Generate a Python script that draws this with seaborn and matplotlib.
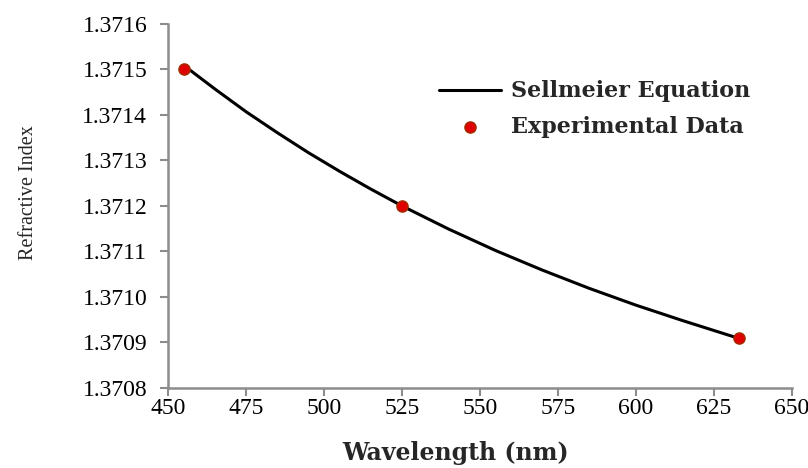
import numpy as np
import pandas as pd
import matplotlib
matplotlib.use("Agg")
import matplotlib.pyplot as plt
import seaborn as sns
from matplotlib.ticker import FormatStrFormatter, MultipleLocator

# Sellmeier fit curve
curve_wl = [455, 465, 475, 485, 495, 505, 515, 525, 540, 555, 570, 585, 600, 615, 633]
curve_n = [1.371509, 1.371457, 1.371407, 1.371361, 1.371317, 1.371276, 1.371237,
           1.371200, 1.371149, 1.371102, 1.371059, 1.371019, 1.370982, 1.370948,
           1.370909]

# measured points
exp_wl = [455, 525, 633]
exp_n = [1.37150, 1.37120, 1.37091]

sns.set_style("ticks")
plt.rcParams['font.family'] = ['Liberation Serif', 'DejaVu Serif']

curve = pd.DataFrame({'wl': curve_wl, 'n': curve_n})
exp = pd.DataFrame({'wl': exp_wl, 'n': exp_n})

fig = plt.figure(figsize=(8.08, 4.68), dpi=100)
ax = fig.add_axes([0.208, 0.171, 0.772, 0.778])

sns.lineplot(data=curve, x='wl', y='n', color='black', linewidth=2.2,
             label='Sellmeier Equation', ax=ax)
sns.scatterplot(data=exp, x='wl', y='n', color='#e00000', edgecolor='#a03000',
                s=65, linewidth=1, marker='o', label='Experimental Data',
                ax=ax, zorder=3)

ax.set_xlim(450, 650)
ax.set_ylim(1.3708, 1.3716)
ax.xaxis.set_major_locator(MultipleLocator(25))
ax.yaxis.set_major_locator(MultipleLocator(0.0001))
ax.yaxis.set_major_formatter(FormatStrFormatter('%.4f'))

for s in ['top', 'right']:
    ax.spines[s].set_visible(False)
for s in ['left', 'bottom']:
    ax.spines[s].set_color('#8c8c8c')
    ax.spines[s].set_linewidth(1.8)
ax.tick_params(axis='both', direction='out', length=6, width=1.5,
               color='#8c8c8c', labelsize=17, labelcolor='black')
ax.tick_params(axis='y', pad=9)
ax.tick_params(axis='x', pad=1)

ax.set_xlabel('Wavelength (nm)', fontsize=17, fontweight='bold',
              family=['DejaVu Serif'])
ax.xaxis.set_label_coords(0.4615, -0.145)
ax.set_ylabel('Refractive Index', fontsize=14.5)
ax.yaxis.set_label_coords(-0.208, 0.538)

leg = ax.legend(loc='upper left', bbox_to_anchor=(0.402, 0.90), frameon=False,
                prop={'family': 'DejaVu Serif', 'weight': 'bold', 'size': 16},
                handlelength=2.8, handletextpad=0.45, labelspacing=0.63)

fig.savefig('out.png', dpi=100)
